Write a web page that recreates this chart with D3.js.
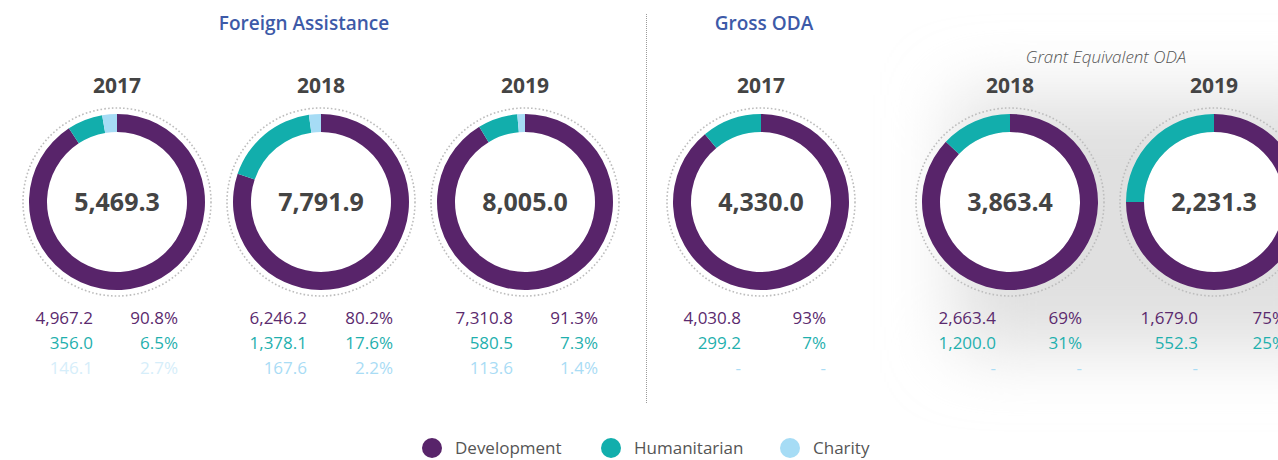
<!DOCTYPE html>
<html><head><meta charset="utf-8">
<script src="https://cdn.jsdelivr.net/npm/d3@7"></script>
<style>body{margin:0;background:#fff;} svg{display:block;font-family:"Open Sans",sans-serif;}</style>
</head><body><svg id="c" width="1278" height="460"></svg>
<script>
// ---- data ----
const years = ["2017", "2018", "2019", "2017", "2018", "2019"];
const totals = [5469.3, 7791.9, 8005.0, 4330.0, 3863.4, 2231.3];
const development = [4967.2, 6246.2, 7310.8, 4030.8, 2663.4, 1679.0];
const humanitarian = [356.0, 1378.1, 580.5, 299.2, 1200.0, 552.3];
const charity = [146.1, 167.6, 113.6, null, null, null];
const developmentPct = [90.8, 80.2, 91.3, 93, 69, 75];
const humanitarianPct = [6.5, 17.6, 7.3, 7, 31, 25];
const charityPct = [2.7, 2.2, 1.4, null, null, null];
const pctDecimals = [1, 1, 1, 0, 0, 0];
// ring shares (%) as drawn in the original rings
const ringDevelopment = [90.8, 80.2, 91.3, 89, 87, 75];
const ringHumanitarian = [6.5, 17.6, 7.3, 11, 13, 25];
const ringCharity = [2.7, 2.2, 1.4, 0, 0, 0];
const categories = ["Development", "Humanitarian", "Charity"];
const groupTitles = ["Foreign Assistance", "Gross ODA"];
const subTitle = "Grant Equivalent ODA";

// ---- layout / style ----
const colors = {Development: "#58246a", Humanitarian: "#12aeac", Charity: "#a6dcf5"};
const textColors = ["#5b2a6e", "#1fb0ae", "#a9dcf5"];
const centerX = [117, 321, 525, 761, 1010, 1214];
const centerY = 202;
const valOff = [-24, -14, -12, -20, -14, -16];
const pctOff = [61, 72, 73, 65, 72, 72];
const rOuter = 88, rInner = 70, rDots = 94;

const svg = d3.select("#c");
const defs = svg.append("defs");
const f = defs.append("filter").attr("id", "blur").attr("x", "-50%").attr("y", "-50%").attr("width", "200%").attr("height", "200%");
f.append("feGaussianBlur").attr("stdDeviation", 34);

// shaded background behind grant-equivalent ODA
svg.append("rect").attr("x", 955).attr("y", 95).attr("width", 400).attr("height", 255)
  .attr("fill", "#e0e0e0").attr("filter", "url(#blur)");

// separator
svg.append("line").attr("x1", 646.5).attr("x2", 646.5).attr("y1", 14).attr("y2", 404)
  .attr("stroke", "#9a9a9a").attr("stroke-width", 1).attr("stroke-dasharray", "1 1");

// titles
svg.append("text").attr("x", 304).attr("y", 30).attr("text-anchor", "middle")
  .attr("fill", "#3d5aa8").attr("font-size", 19).attr("font-weight", 600).text(groupTitles[0]);
svg.append("text").attr("x", 764).attr("y", 30).attr("text-anchor", "middle")
  .attr("fill", "#3d5aa8").attr("font-size", 19).attr("font-weight", 600).text(groupTitles[1]);
svg.append("text").attr("x", 1106).attr("y", 63).attr("text-anchor", "middle")
  .attr("fill", "#555").attr("font-size", 17).attr("font-style", "italic").attr("font-weight", 300).text(subTitle);

const pie = d3.pie().sort(null).value(d => d.v || 0);
const arc = d3.arc().innerRadius(rInner).outerRadius(rOuter);
const fmtV = d3.format(",.1f");

years.forEach((yr, i) => {
  const g = svg.append("g").attr("transform", `translate(${centerX[i]},${centerY})`);
  g.append("circle").attr("r", rDots).attr("fill", "none").attr("stroke", "#bdbdbd")
    .attr("stroke-width", 1.6).attr("stroke-dasharray", "1.6 2.2");
  g.append("circle").attr("r", rInner).attr("fill", "#fff");
  const data = [
    {k: "Development", v: ringDevelopment[i]},
    {k: "Humanitarian", v: ringHumanitarian[i]},
    {k: "Charity", v: ringCharity[i]}
  ];
  g.selectAll("path").data(pie(data)).join("path")
    .attr("d", arc).attr("fill", d => colors[d.data.k]);
  g.append("text").attr("y", 9).attr("text-anchor", "middle").attr("fill", "#444")
    .attr("font-size", 25).attr("font-weight", 700).text(fmtV(totals[i]));
  g.append("text").attr("y", 93 - centerY)
    .attr("text-anchor", "middle").attr("fill", "#444").attr("font-size", 21).attr("font-weight", 700)
    .text(yr);

  const vals = [development[i], humanitarian[i], charity[i]];
  const pcts = [developmentPct[i], humanitarianPct[i], charityPct[i]];
  const fmtP = d3.format("." + pctDecimals[i] + "f");
  vals.forEach((v, r) => {
    let col = textColors[r];
    if (r === 2 && i === 0) col = "#d6eefa";
    const yb = 324 + r * 25 - centerY;
    g.append("text").attr("x", valOff[i]).attr("y", yb).attr("text-anchor", "end")
      .attr("fill", col).attr("font-size", 17).text(v == null ? "-" : fmtV(v));
    g.append("text").attr("x", pctOff[i]).attr("y", yb).attr("text-anchor", "end")
      .attr("fill", col).attr("font-size", 17).text(pcts[r] == null ? "-" : fmtP(pcts[r]) + "%");
  });
});

// legend
const legX = [432, 611, 790];
categories.forEach((c, i) => {
  svg.append("circle").attr("cx", legX[i]).attr("cy", 448).attr("r", 10).attr("fill", colors[c]);
  svg.append("text").attr("x", legX[i] + 23).attr("y", 454).attr("fill", "#555")
    .attr("font-size", 17).text(c);
});
</script></body></html>
